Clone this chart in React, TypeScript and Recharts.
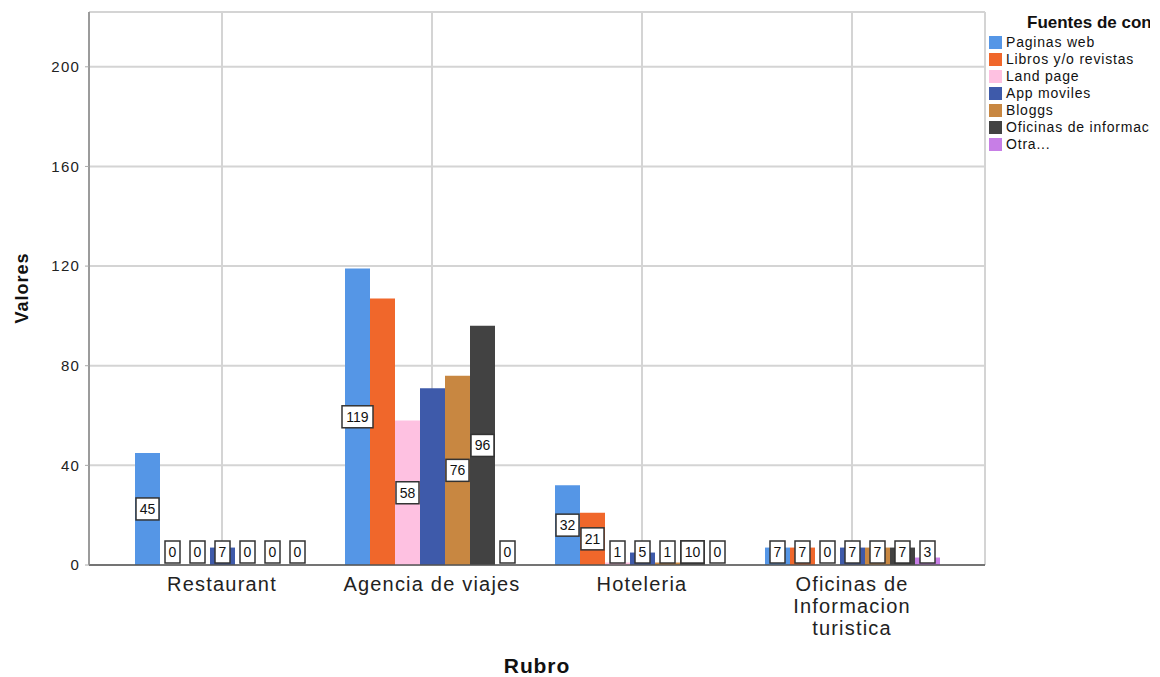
import { BarChart, Bar, XAxis, YAxis, CartesianGrid, LabelList, Text } from 'recharts';

const categories = ['Restaurant', 'Agencia de viajes', 'Hoteleria', 'Oficinas de Informacion turistica'];
const paginasWeb = [45, 119, 32, 7];
const librosRevistas = [0, 107, 21, 7];
const landPage = [0, 58, 1, 0];
const appMoviles = [7, 71, 5, 7];
const bloggs = [0, 76, 1, 7];
const oficinasInfo = [0, 96, 10, 7];
const otra = [0, 0, 0, 3];
const yTicks = [0, 40, 80, 120, 160, 200];
// SPSS dropped these two labels (they collided), so skip them too
const hiddenLabels = [
  { key: 'librosRevistas', rubro: 'Agencia de viajes' },
  { key: 'appMoviles', rubro: 'Agencia de viajes' },
];

const series = [
  { key: 'paginasWeb', name: 'Paginas web', values: paginasWeb, color: '#5596E6' },
  { key: 'librosRevistas', name: 'Libros y/o revistas', values: librosRevistas, color: '#F0672B' },
  { key: 'landPage', name: 'Land page', values: landPage, color: '#FEC1E1' },
  { key: 'appMoviles', name: 'App moviles', values: appMoviles, color: '#3E5AAA' },
  { key: 'bloggs', name: 'Bloggs', values: bloggs, color: '#C88741' },
  { key: 'oficinasInfo', name: 'Oficinas de informacion turistica', values: oficinasInfo, color: '#424242' },
  { key: 'otra', name: 'Otra...', values: otra, color: '#C77EE6' },
];

const data = categories.map((rubro, i) => {
  const row: Record<string, string | number> = { rubro };
  series.forEach((s) => {
    row[s.key] = s.values[i];
  });
  return row;
});

const FONT = '"Liberation Sans", Arial, sans-serif';

const isHidden = (key: string, value: number) => {
  const s = series.find((d) => d.key === key);
  return hiddenLabels.some((h) => h.key === key && s && s.values[categories.indexOf(h.rubro)] === value);
};

const valueBox = (seriesKey: string) => (props: any) => {
  const vb = props.viewBox ?? props;
  const { x, y, width, height } = vb;
  if (isHidden(seriesKey, Number(props.value))) return null;
  const top = Math.min(y, y + height);
  const bottom = Math.max(y, y + height);
  const cx = x + width / 2;
  const cy = Math.min((top + bottom) / 2, bottom - 13);
  const text = String(props.value);
  const w = text.length * 8 + 7;
  return (
    <g>
      <rect x={cx - w / 2} y={cy - 11} width={w} height={22} fill="#fff" stroke="#333" strokeWidth={1.5} />
      <text x={cx} y={cy + 5} textAnchor="middle" fontSize={14} fontFamily={FONT} fill="#111">
        {text}
      </text>
    </g>
  );
};

const CategoryTick = ({ x, y, payload }: any) => (
  <Text
    x={x}
    y={y + 4}
    width={135}
    textAnchor="middle"
    verticalAnchor="start"
    lineHeight={22}
    fontSize={20}
    fontFamily={FONT}
    letterSpacing={1.2}
    fill="#222"
    style={{ fontFamily: FONT, fontSize: 20, letterSpacing: 1.2 }}
  >
    {payload.value}
  </Text>
);

export default function App() {
  return (
    <div style={{ position: 'absolute', left: 0, top: 0, width: 1160, height: 677, overflow: 'hidden', background: '#fff' }}>
      <BarChart
        width={1160}
        height={677}
        data={data}
        margin={{ top: 12, right: 175, bottom: 0, left: 0 }}
        barGap={0}
        barCategoryGap={17}
      >
        <CartesianGrid stroke="#d4d4d4" strokeWidth={2} />
        <XAxis
          dataKey="rubro"
          height={112}
          padding={{ left: 28, right: 28 }}
          tick={<CategoryTick />}
          tickLine={false}
          interval={0}
          axisLine={{ stroke: '#555', strokeWidth: 1.5 }}
          label={{
            value: 'Rubro',
            position: 'insideBottom',
            offset: 4,
            style: { fontFamily: FONT, fontSize: 21, fontWeight: 'bold', letterSpacing: 0.9, fill: '#111' },
          }}
        />
        <YAxis
          width={89}
          domain={[0, 222]}
          ticks={yTicks}
          tickSize={4}
          tickMargin={5}
          tickLine={{ stroke: '#aaa' }}
          axisLine={{ stroke: '#888', strokeWidth: 1.5 }}
          tick={{ fontFamily: FONT, fontSize: 15, letterSpacing: 1.2, fill: '#222' }}
          label={{
            content: () => (
              <text
                x={22}
                y={288}
                transform="rotate(-90 22 288)"
                textAnchor="middle"
                dominantBaseline="central"
                fontFamily={FONT}
                fontSize={18}
                fontWeight="bold"
                letterSpacing={1}
                fill="#111"
              >
                Valores
              </text>
            ),
          }}
        />
        {series.map((s) => (
          <Bar
            key={s.key}
            dataKey={s.key}
            name={s.name}
            fill={s.color}
            barSize={25}
            minPointSize={0.01}
            isAnimationActive={false}
          >
            <LabelList dataKey={s.key} content={valueBox(s.key)} />
          </Bar>
        ))}
      </BarChart>
      <div
        style={{
          position: 'absolute',
          left: 989,
          top: 13,
          width: 161,
          overflow: 'hidden',
          fontFamily: FONT,
          fontSize: 14,
          letterSpacing: 0.8,
          color: '#111',
          whiteSpace: 'nowrap',
          lineHeight: '17px',
        }}
      >
        <div style={{ fontWeight: 'bold', fontSize: 17, paddingLeft: 38, height: 21, lineHeight: '20px', letterSpacing: 0 }}>
          Fuentes de consulta
        </div>
        {series.map((s) => (
          <div key={s.key} style={{ display: 'flex', alignItems: 'center', height: 17 }}>
            <span style={{ display: 'inline-block', flex: 'none', width: 13, height: 13, background: s.color, marginRight: 4 }} />
            {s.name}
          </div>
        ))}
      </div>
    </div>
  );
}
